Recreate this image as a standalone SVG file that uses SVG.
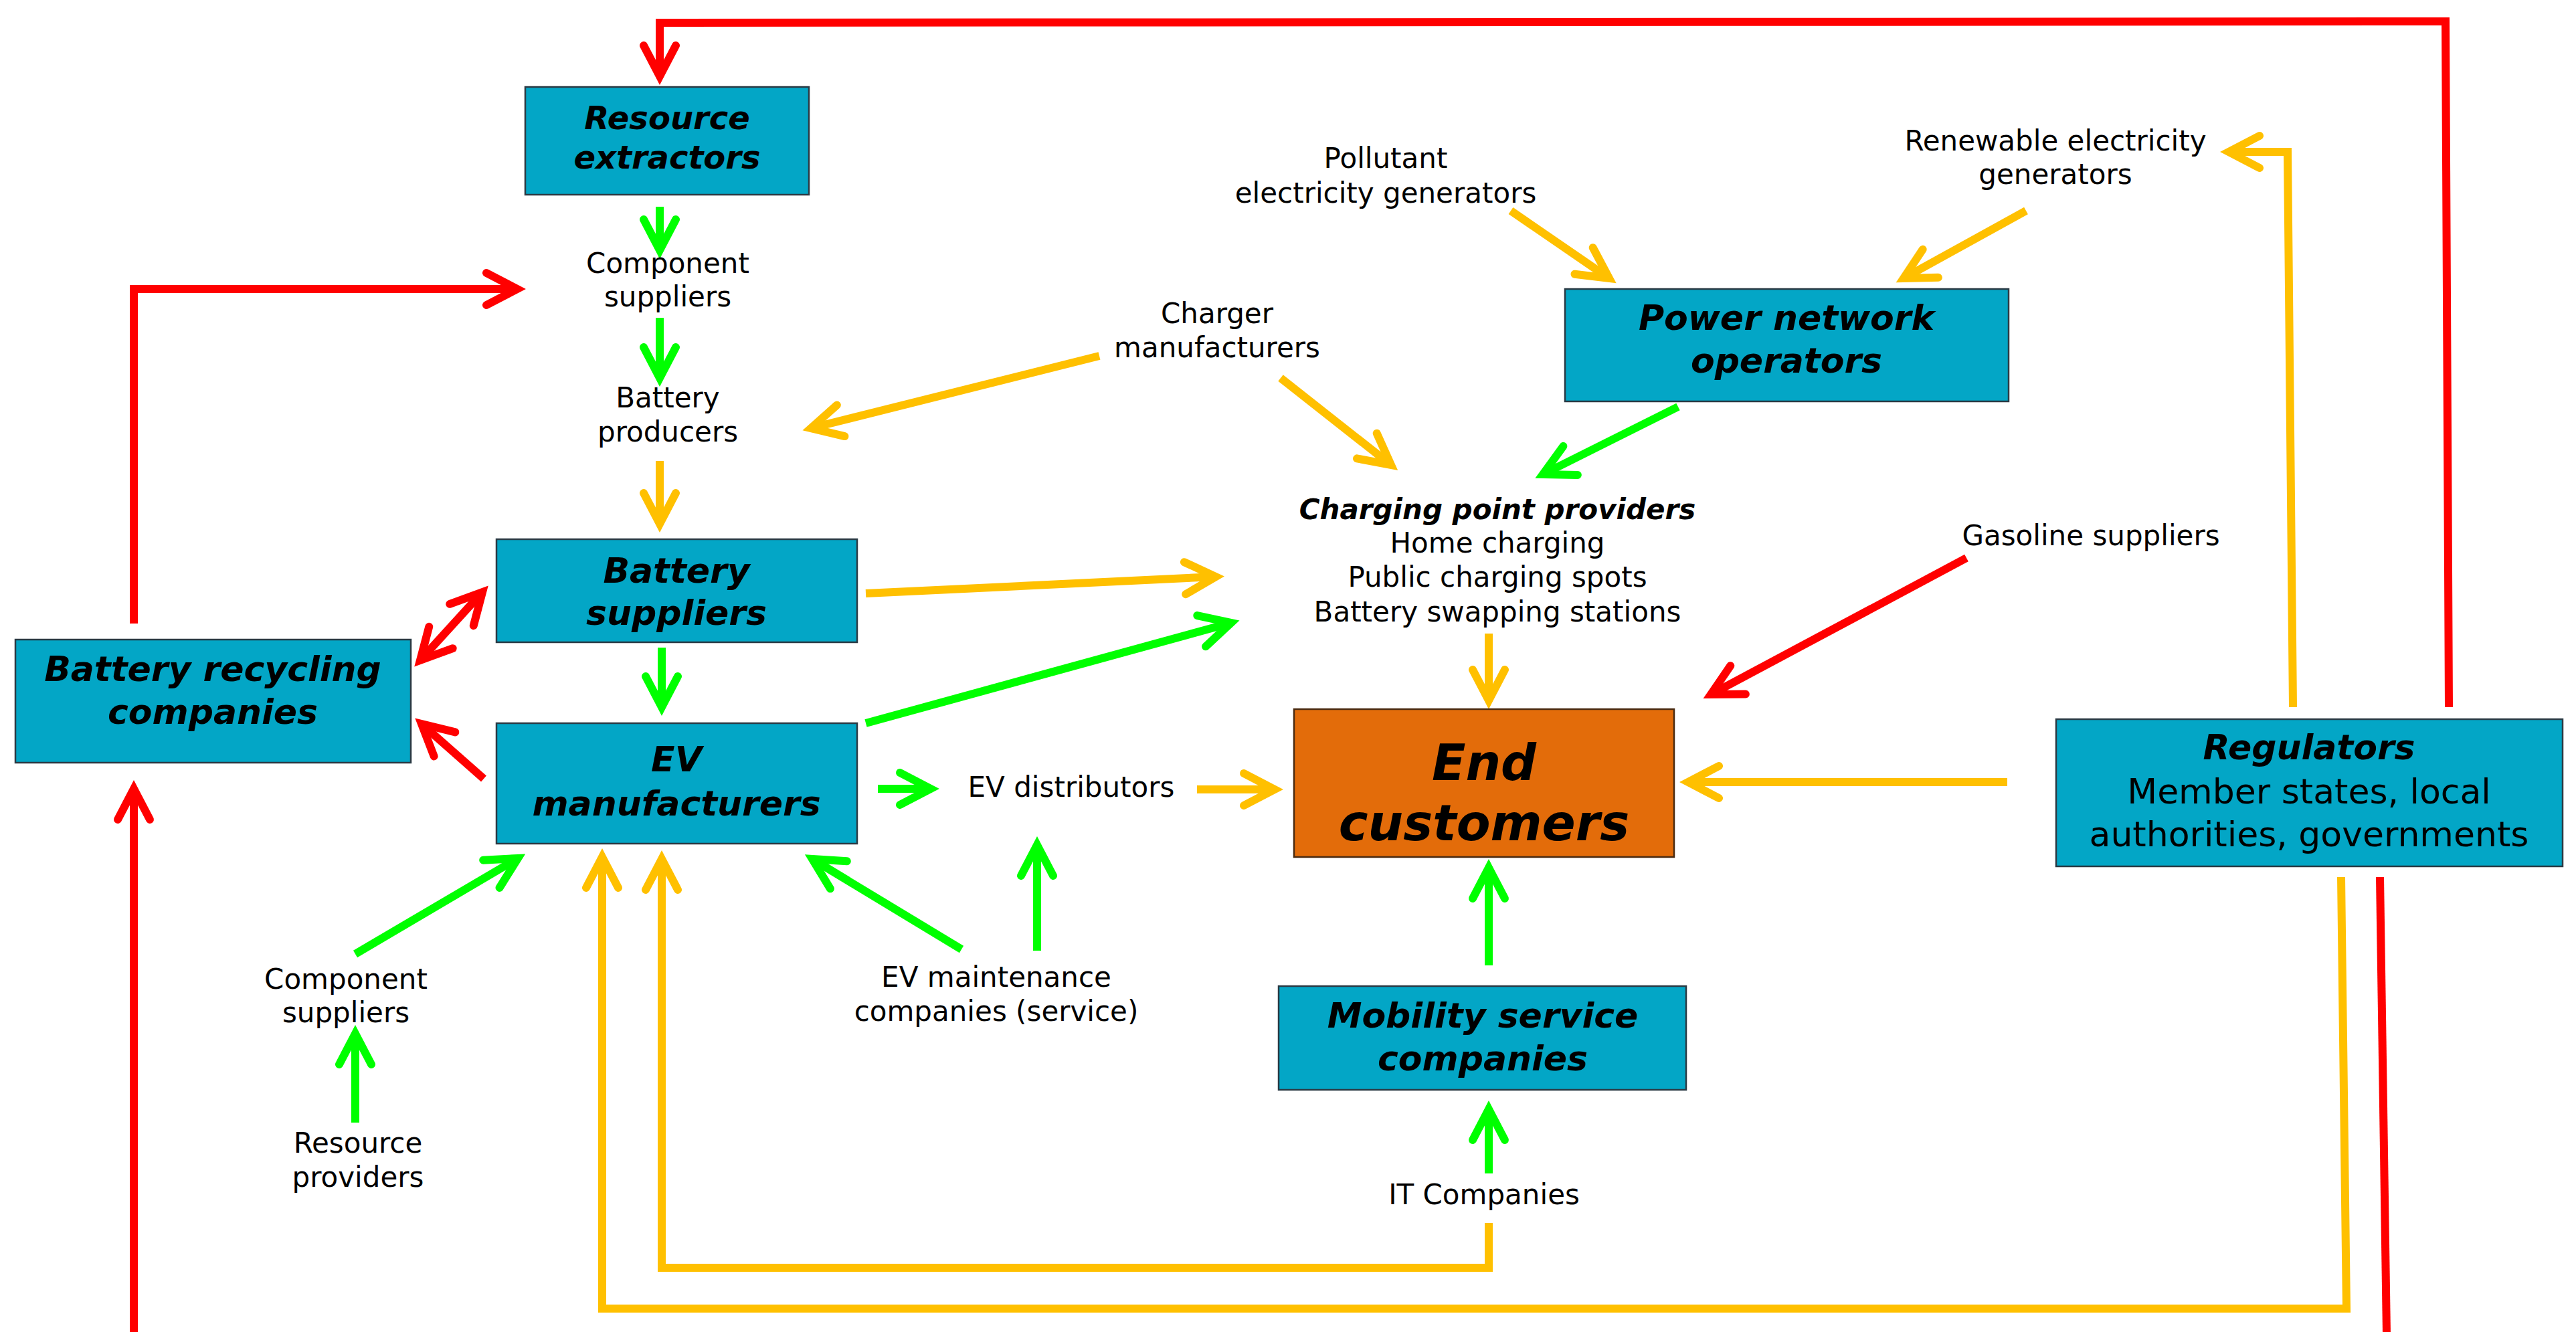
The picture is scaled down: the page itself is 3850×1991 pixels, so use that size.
<svg xmlns="http://www.w3.org/2000/svg" width="3850" height="1991" viewBox="0 0 3850 1991">
<style>
.box{fill:#03A6C6;stroke:#2A3A44;stroke-width:2.5}
.end{fill:#E36C0A;stroke:#4A2A10;stroke-width:2.5}
text{font-family:"DejaVu Sans",Verdana,sans-serif;fill:#000}
.bt{font-size:52px;font-weight:bold;font-style:italic;text-anchor:middle}
.lb{font-size:42px;text-anchor:middle}
.lbb{font-size:42px;font-weight:bold;font-style:italic;text-anchor:middle}
.r{fill:none;stroke:#FF0000;stroke-width:12;stroke-linejoin:miter}
.g{fill:none;stroke:#00FF00;stroke-width:12;stroke-linejoin:miter}
.y{fill:none;stroke:#FFC000;stroke-width:12;stroke-linejoin:miter}
.r.a{marker-end:url(#aR)}
.g.a{marker-end:url(#aG)}
.y.a{marker-end:url(#aY)}
</style>
<defs>
<marker id="aR" markerUnits="userSpaceOnUse" viewBox="-70 -40 90 80" markerWidth="90" markerHeight="80" refX="0" refY="0" orient="auto-start-reverse" overflow="visible"><path d="M-46,-24 L0,0 L-46,24" fill="none" stroke="#FF0000" stroke-width="12" stroke-linecap="round" stroke-linejoin="miter"/></marker>
<marker id="aG" markerUnits="userSpaceOnUse" viewBox="-70 -40 90 80" markerWidth="90" markerHeight="80" refX="0" refY="0" orient="auto-start-reverse" overflow="visible"><path d="M-46,-24 L0,0 L-46,24" fill="none" stroke="#00FF00" stroke-width="12" stroke-linecap="round" stroke-linejoin="miter"/></marker>
<marker id="aY" markerUnits="userSpaceOnUse" viewBox="-70 -40 90 80" markerWidth="90" markerHeight="80" refX="0" refY="0" orient="auto-start-reverse" overflow="visible"><path d="M-46,-24 L0,0 L-46,24" fill="none" stroke="#FFC000" stroke-width="12" stroke-linecap="round" stroke-linejoin="miter"/></marker>
</defs>
<rect width="3850" height="1991" fill="#FFFFFF"/>

<g id="connectors">
<!-- red -->
<path class="r a" d="M3660,1057 L3655,32 L986,34 L986,114"/>
<path class="r" d="M3557,1311 L3567,1995"/>
<path class="r a" d="M200,1995 L200,1179"/>
<path class="r a" d="M200,932 L200,432 L773,432"/>
<path class="r a" d="M628,987 L721,885" style="marker-start:url(#aR)"/>
<path class="r a" d="M723,1164 L630,1082"/>
<path class="r a" d="M2939,834 L2557,1038"/>
<!-- green -->
<path class="g a" d="M986,309 L986,374"/>
<path class="g a" d="M986,475 L986,565"/>
<path class="g a" d="M989,968 L989,1057"/>
<path class="g a" d="M1294,1081 L1840,931"/>
<path class="g a" d="M1312,1179 L1391,1179"/>
<path class="g a" d="M1550,1421 L1550,1263"/>
<path class="g a" d="M1437,1419 L1214,1284"/>
<path class="g a" d="M531,1426 L774,1283"/>
<path class="g a" d="M531,1678 L531,1545"/>
<path class="g a" d="M2225,1443 L2225,1297"/>
<path class="g a" d="M2225,1754 L2225,1658"/>
<path class="g a" d="M2508,608 L2306,709"/>
<!-- yellow -->
<path class="y a" d="M986,689 L986,783"/>
<path class="y a" d="M1643,532 L1212,640"/>
<path class="y a" d="M1914,565 L2079,695"/>
<path class="y a" d="M2258,315 L2405,416"/>
<path class="y a" d="M3028,315 L2845,416"/>
<path class="y a" d="M3427,1057 L3419,227 L3331,227"/>
<path class="y a" d="M3000,1169 L2523,1169"/>
<path class="y a" d="M2225,947 L2225,1047"/>
<path class="y a" d="M1294,887 L1817,862"/>
<path class="y a" d="M1789,1180 L1905,1180"/>
<path class="y a" d="M2225,1828 L2225,1895 L989,1895 L989,1284"/>
<path class="y a" d="M3499,1311 L3507,1956 L900,1956 L900,1281"/>
</g>

<g id="resource-extractors">
<rect class="box" x="785" y="130" width="424" height="161"/>
<text class="bt" style="font-size:48px" x="997" y="193">Resource</text>
<text class="bt" style="font-size:48px" x="997" y="252">extractors</text>
</g>
<g id="component-suppliers-top">
<text class="lb" x="998" y="408">Component</text>
<text class="lb" x="998" y="458">suppliers</text>
</g>
<g id="battery-producers">
<text class="lb" x="998" y="609">Battery</text>
<text class="lb" x="998" y="660">producers</text>
</g>
<g id="charger-manufacturers">
<text class="lb" x="1819" y="483">Charger</text>
<text class="lb" x="1819" y="534">manufacturers</text>
</g>
<g id="pollutant-generators">
<text class="lb" x="2071" y="251">Pollutant</text>
<text class="lb" x="2071" y="303">electricity generators</text>
</g>
<g id="renewable-generators">
<text class="lb" x="3072" y="225">Renewable electricity</text>
<text class="lb" x="3072" y="275">generators</text>
</g>
<g id="power-network-operators">
<rect class="box" x="2339" y="432" width="663" height="168"/>
<text class="bt" x="2670" y="493">Power network</text>
<text class="bt" x="2670" y="557">operators</text>
</g>
<g id="charging-point-providers">
<text class="lbb" x="2238" y="776">Charging point providers</text>
<text class="lb" x="2238" y="826">Home charging</text>
<text class="lb" x="2238" y="877">Public charging spots</text>
<text class="lb" x="2238" y="929">Battery swapping stations</text>
</g>
<g id="gasoline-suppliers">
<text class="lb" x="3125" y="815">Gasoline suppliers</text>
</g>
<g id="battery-suppliers">
<rect class="box" x="742" y="806" width="539" height="154"/>
<text class="bt" x="1011" y="871">Battery</text>
<text class="bt" x="1011" y="934">suppliers</text>
</g>
<g id="battery-recycling-companies">
<rect class="box" x="23" y="956" width="591" height="184"/>
<text class="bt" x="318" y="1018">Battery recycling</text>
<text class="bt" x="318" y="1082">companies</text>
</g>
<g id="ev-manufacturers">
<rect class="box" x="742" y="1081" width="539" height="180"/>
<text class="bt" x="1011" y="1153">EV</text>
<text class="bt" x="1011" y="1219">manufacturers</text>
</g>
<g id="ev-distributors">
<text class="lb" x="1601" y="1191">EV distributors</text>
</g>
<g id="end-customers">
<rect class="end" x="1934" y="1060" width="568" height="221"/>
<text class="bt" style="font-size:74px" x="2218" y="1166">End</text>
<text class="bt" style="font-size:74px" x="2218" y="1256">customers</text>
</g>
<g id="regulators">
<rect class="box" x="3073" y="1075" width="757" height="220"/>
<text class="bt" x="3451" y="1135">Regulators</text>
<text class="lb" style="font-size:52px" x="3451" y="1201">Member states, local</text>
<text class="lb" style="font-size:52px" x="3451" y="1265">authorities, governments</text>
</g>
<g id="component-suppliers-bottom">
<text class="lb" x="517" y="1478">Component</text>
<text class="lb" x="517" y="1528">suppliers</text>
</g>
<g id="resource-providers">
<text class="lb" x="535" y="1723">Resource</text>
<text class="lb" x="535" y="1774">providers</text>
</g>
<g id="ev-maintenance">
<text class="lb" x="1489" y="1475">EV maintenance</text>
<text class="lb" x="1489" y="1526">companies (service)</text>
</g>
<g id="mobility-service-companies">
<rect class="box" x="1911" y="1474" width="609" height="155"/>
<text class="bt" x="2216" y="1536">Mobility service</text>
<text class="bt" x="2216" y="1600">companies</text>
</g>
<g id="it-companies">
<text class="lb" x="2218" y="1800">IT Companies</text>
</g>
</svg>
